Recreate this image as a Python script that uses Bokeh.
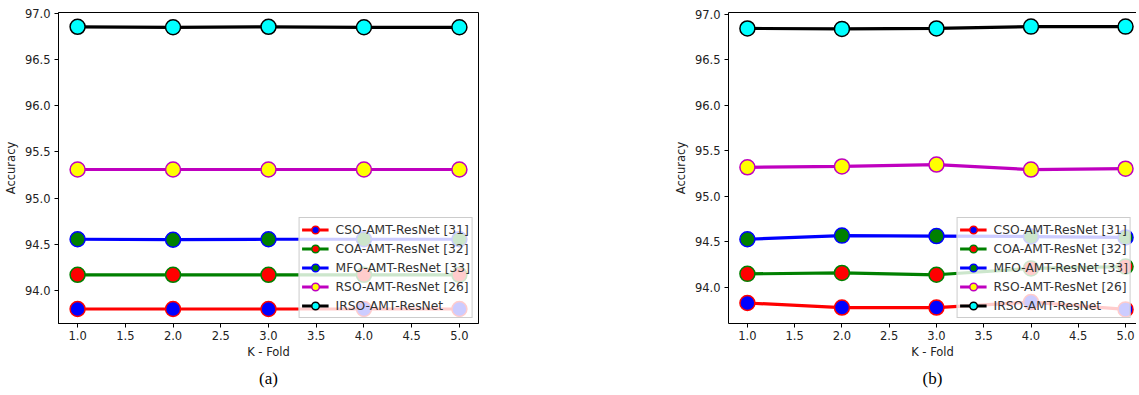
from bokeh.plotting import figure
from bokeh.layouts import row
from bokeh.models import Range1d, Legend, LegendItem, Title, FixedTicker, LinearAxis
from bokeh.embed import file_html
from bokeh.resources import INLINE

folds = [1.0, 2.0, 3.0, 4.0, 5.0]
series_names = ["CSO-AMT-ResNet [31]", "COA-AMT-ResNet [32]", "MFO-AMT-ResNet [33]",
                "RSO-AMT-ResNet [26]", "IRSO-AMT-ResNet"]

# panel (a)
a_cso = [93.80, 93.80, 93.80, 93.80, 93.80]
a_coa = [94.17, 94.17, 94.17, 94.17, 94.17]
a_mfo = [94.555, 94.55, 94.555, 94.555, 94.555]
a_rso = [95.31, 95.31, 95.31, 95.31, 95.31]
a_irso = [96.855, 96.85, 96.855, 96.85, 96.85]

# panel (b)
b_cso = [93.83, 93.78, 93.78, 93.84, 93.76]
b_coa = [94.15, 94.16, 94.14, 94.21, 94.23]
b_mfo = [94.53, 94.57, 94.565, 94.56, 94.55]
b_rso = [95.32, 95.33, 95.35, 95.295, 95.305]
b_irso = [96.845, 96.84, 96.845, 96.865, 96.865]

line_colors = ["#ff0000", "#008000", "#0000ff", "#bf00bf", "#000000"]
fill_colors = ["#0000ff", "#ff0000", "#008000", "#ffff00", "#00ffff"]

y_ticks = [94.0, 94.5, 95.0, 95.5, 96.0, 96.5, 97.0]
x_ticks = [1.0, 1.5, 2.0, 2.5, 3.0, 3.5, 4.0, 4.5, 5.0]

FONT = "DejaVu Sans"


def make_panel(series, xlim, ylim, caption, width, height, bl, br, bt, bb, open_right=False):
    p = figure(width=width, height=height, output_backend="svg", toolbar_location=None,
               x_range=Range1d(*xlim), y_range=Range1d(*ylim),
               min_border_left=bl, min_border_right=br, min_border_top=bt,
               min_border_bottom=bb)
    p.xgrid.visible = False
    p.ygrid.visible = False
    p.background_fill_color = "white"
    p.border_fill_color = "white"
    items = []
    for name, ys, lc, fc in zip(series_names, series, line_colors, fill_colors):
        r1 = p.line(folds, ys, line_color=lc, line_width=3.2)
        r2 = p.scatter(folds, ys, size=15, fill_color=fc, line_color=lc, line_width=1.5)
        items.append(LegendItem(label=name, renderers=[r1, r2]))
    leg = Legend(items=items, location="bottom_right")
    leg.label_text_font = FONT
    leg.label_text_font_size = "12.3px"
    leg.label_text_color = "#333333"
    leg.glyph_width = 27
    leg.glyph_height = 19
    leg.label_height = 18
    leg.spacing = 0
    leg.padding = 2
    leg.margin = 5
    leg.label_standoff = 7
    leg.background_fill_alpha = 0.8
    leg.border_line_color = "#cccccc"
    leg.border_line_alpha = 1
    p.add_layout(leg, "center")

    xax = p.xaxis[0]
    yax = p.yaxis[0]
    for ax in (xax, yax):
        ax.major_label_text_font = FONT
        ax.major_label_text_font_size = "11.5px"
        ax.major_label_text_color = "#222222"
        ax.axis_label_text_font = FONT
        ax.axis_label_text_font_size = "11.5px"
        ax.axis_label_text_font_style = "normal"
        ax.axis_label_text_color = "#222222"
        ax.minor_tick_line_color = None
        ax.major_tick_in = 0
        ax.major_tick_out = 4
        ax.axis_line_color = "#000000"
    xax.ticker = FixedTicker(ticks=x_ticks)
    yax.ticker = FixedTicker(ticks=y_ticks)
    xax.major_label_overrides = {t: f"{t:.1f}" for t in x_ticks}
    yax.major_label_overrides = {t: f"{t:.1f}" for t in y_ticks}
    xax.axis_label = "K - Fold"
    yax.axis_label = "Accuracy"
    xax.axis_label_standoff = 2
    yax.axis_label_standoff = 4
    yax.major_label_standoff = 4
    xax.major_label_standoff = 3

    if open_right:
        p.outline_line_color = None
        top = LinearAxis(major_label_text_font_size="0px", major_tick_line_color=None,
                         minor_tick_line_color=None, axis_line_color="#000000",
                         major_label_standoff=0, major_tick_out=0, major_tick_in=0)
        top.ticker = FixedTicker(ticks=[])
        p.add_layout(top, "above")
    else:
        p.outline_line_color = "#000000"
        p.outline_line_alpha = 1

    t = Title(text=caption, align="center", text_font="Liberation Serif",
              text_font_size="17px", text_font_style="normal", text_color="#000000",
              offset=0, standoff=10)
    p.add_layout(t, "below")
    return p


pa = make_panel([a_cso, a_coa, a_mfo, a_rso, a_irso], (0.8, 5.2), (93.643, 97.01), "(a)",
                width=479, height=392, bl=57, br=1, bt=12, bb=69)
pb = make_panel([b_cso, b_coa, b_mfo, b_rso, b_irso], (0.8, 5.116), (93.605, 97.02), "(b)",
                width=657, height=392, bl=249, br=0, bt=12, bb=69, open_right=True)

layout = row(pa, pb)
open("out.html", "w").write(file_html(layout, INLINE))
